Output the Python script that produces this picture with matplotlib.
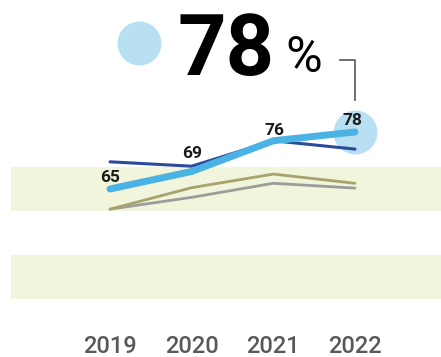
import matplotlib
matplotlib.use('Agg')
import matplotlib.pyplot as plt

years = [2019, 2020, 2021, 2022]
main_vals = [65, 69, 76, 78]
navy_vals = [71.2, 70.2, 76.0, 74.1]
olive_vals = [60.4, 65.3, 68.4, 66.3]
gray_vals = [60.4, 63.1, 66.3, 65.2]
bands = [(60, 70), (40, 50)]

LIGHT = '#4bb3e4'
NAVY = '#2b4a9c'
OLIVE = '#a6a46c'
GRAY = '#9c9c9c'
BAND = '#f1f5dc'
CIRCLE = '#b9dff2'
FONT = ['Roboto', 'DejaVu Sans']

fig = plt.figure(figsize=(4.41, 3.57), dpi=100)
ax = fig.add_axes([0, 0, 1, 1])
ax.set_xlim(2017.653, 2023.053)
ax.set_ylim(26.69, 108.1)
ax.axis('off')

for lo, hi in bands:
    ax.axhspan(lo, hi, xmin=11 / 441, xmax=1, color=BAND, lw=0, zorder=0)

ax.scatter([years[-1]], [main_vals[-1]], s=1000, color=CIRCLE, lw=0, zorder=1)

ax.plot(years, gray_vals, color=GRAY, lw=2, zorder=2, solid_capstyle='round')
ax.plot(years, olive_vals, color=OLIVE, lw=2, zorder=2, solid_capstyle='round')
ax.plot(years, navy_vals, color=NAVY, lw=2.2, zorder=3, solid_capstyle='round')
ax.plot(years, main_vals, color=LIGHT, lw=5, zorder=4, solid_capstyle='round',
        solid_joinstyle='round')

# value labels above the main line (baseline offsets in points)
offsets = [(0, 5), (0, 10), (1, 4.3), (-2, 5)]
for x, v, (dx, dy) in zip(years, main_vals, offsets):
    ax.annotate(str(v), (x, v), xytext=(dx, dy), textcoords='offset points',
                ha='center', va='baseline', fontsize=12.5, fontweight='bold',
                family=FONT, color='#1a1a1a', zorder=5)

for x in years:
    ax.text(x, 0.012, str(x), ha='center', va='baseline', fontsize=17,
            fontweight='medium', family=FONT, color='#595959',
            transform=ax.get_xaxis_transform())

# headline: legend dot, big number and a bracket down to the last point
ax.scatter([139 / 441], [1 - 43 / 357], s=1000, color=CIRCLE, lw=0,
           transform=ax.transAxes, clip_on=False)
fig.text(226 / 441, 1 - 75 / 357, str(main_vals[-1]), ha='center', va='baseline',
         fontsize=61, fontweight='bold', family=FONT, color='black')
fig.text(304 / 441, 1 - 72 / 357, '%', ha='center', va='baseline',
         fontsize=36, family=FONT, color='black')
fig.add_artist(plt.Line2D([340 / 441, 355 / 441, 355 / 441],
                          [1 - 60 / 357, 1 - 60 / 357, 1 - 100 / 357],
                          transform=fig.transFigure, color='#555555', lw=1.2))

fig.savefig('out.png', dpi=100)
